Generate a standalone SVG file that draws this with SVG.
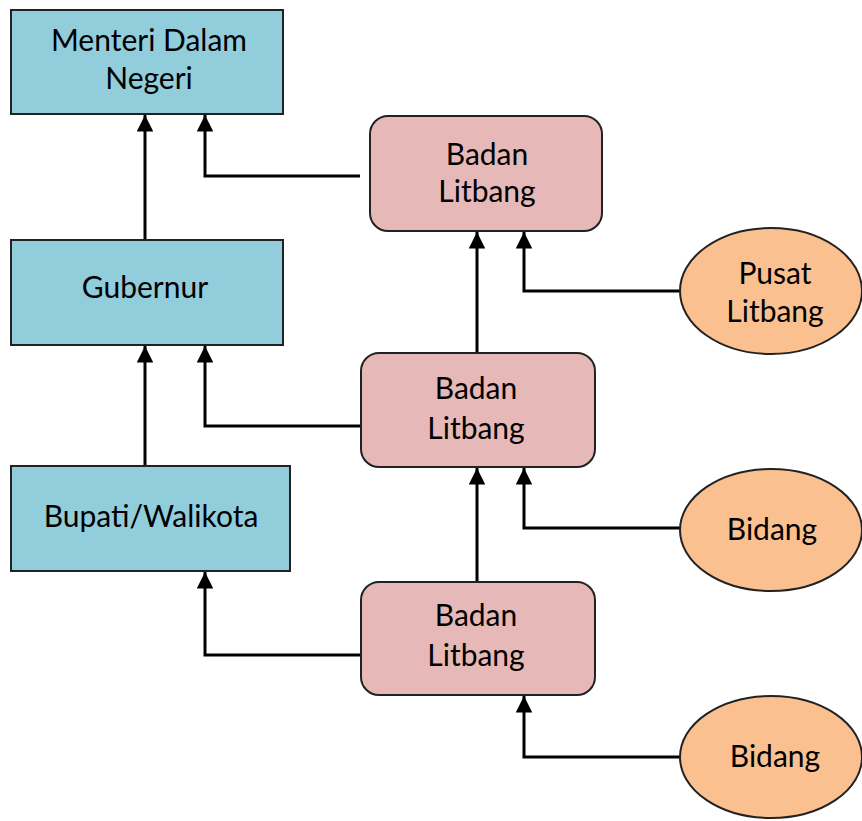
<svg xmlns="http://www.w3.org/2000/svg" width="862" height="821" viewBox="0 0 862 821">
  <style>
    .official { fill: #92CDDC; stroke: #222; stroke-width: 2; }
    .agency { fill: #E6B8B7; stroke: #222; stroke-width: 2; }
    .unit { fill: #FAC090; stroke: #222; stroke-width: 2; }
    .label { font-family: Lato, "Open Sans", sans-serif; font-size: 30px; fill: #000; text-anchor: middle; }
    .link { fill: none; stroke: #000; stroke-width: 3; marker-end: url(#arrow); }
  </style>
  <defs>
    <marker id="arrow" viewBox="0 0 10 10" refX="10" refY="5" markerWidth="6" markerHeight="5.5" markerUnits="strokeWidth" orient="auto">
      <path d="M0,0 L10,5 L0,10 z" fill="#000"/>
    </marker>
  </defs>
  <rect width="862" height="821" fill="#fff"/>

  <g id="connectors">
    <path class="link" d="M145,240 V115"/>
    <path class="link" d="M360,176 H205 V115"/>
    <path class="link" d="M477,353 V232"/>
    <path class="link" d="M680,291 H524 V232"/>
    <path class="link" d="M145,466 V346"/>
    <path class="link" d="M361,426 H205 V346"/>
    <path class="link" d="M477,582 V468"/>
    <path class="link" d="M680,528 H524 V468"/>
    <path class="link" d="M361,655 H205 V572"/>
    <path class="link" d="M680,757 H524 V696"/>
  </g>

  <g id="menteri">
    <rect class="official" x="11" y="10" width="272" height="104"/>
    <text class="label" x="149" y="51">Menteri Dalam</text>
    <text class="label" x="149" y="89">Negeri</text>
  </g>
  <g id="gubernur">
    <rect class="official" x="11" y="240" width="272" height="105"/>
    <text class="label" x="145" y="298">Gubernur</text>
  </g>
  <g id="bupati">
    <rect class="official" x="11" y="466" width="279" height="105"/>
    <text class="label" x="151" y="527">Bupati/Walikota</text>
  </g>

  <g id="badan-pusat">
    <rect class="agency" x="370" y="116" width="232" height="115" rx="18"/>
    <text class="label" x="487" y="165">Badan</text>
    <text class="label" x="487" y="202">Litbang</text>
  </g>
  <g id="badan-provinsi">
    <rect class="agency" x="361" y="353" width="234" height="114" rx="18"/>
    <text class="label" x="476" y="399">Badan</text>
    <text class="label" x="476" y="439">Litbang</text>
  </g>
  <g id="badan-kabupaten">
    <rect class="agency" x="361" y="582" width="234" height="113" rx="18"/>
    <text class="label" x="476" y="626">Badan</text>
    <text class="label" x="476" y="666">Litbang</text>
  </g>

  <g id="pusat-litbang">
    <ellipse class="unit" cx="771" cy="291" rx="91" ry="63"/>
    <text class="label" x="775" y="284">Pusat</text>
    <text class="label" x="775" y="322">Litbang</text>
  </g>
  <g id="bidang-provinsi">
    <ellipse class="unit" cx="771" cy="530" rx="91" ry="61"/>
    <text class="label" x="772" y="540">Bidang</text>
  </g>
  <g id="bidang-kabupaten">
    <ellipse class="unit" cx="771" cy="757" rx="91" ry="61"/>
    <text class="label" x="775" y="767">Bidang</text>
  </g>
</svg>
